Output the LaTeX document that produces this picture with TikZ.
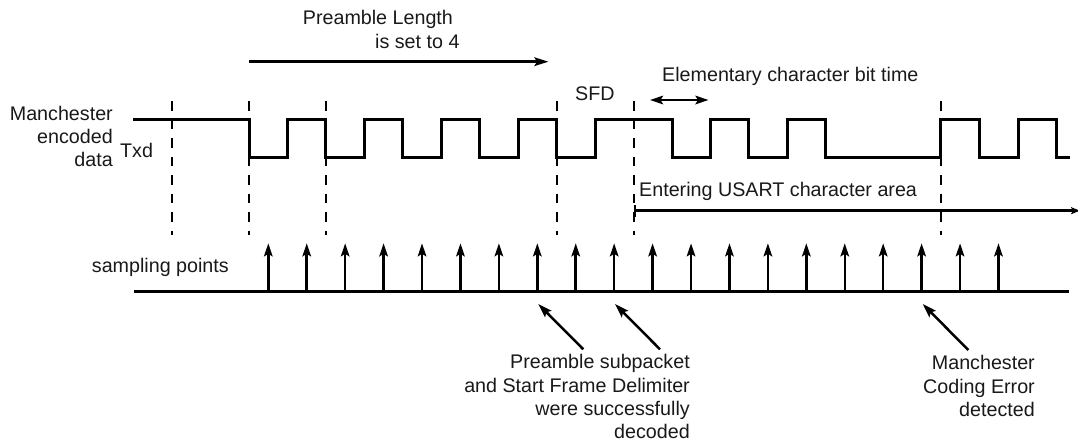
\documentclass[tikz,border=0pt]{standalone}
\usepackage{fontspec}
\setmainfont{Liberation Sans}
\usetikzlibrary{arrows.meta}
\tikzset{
  lbl/.style={font=\fontsize{19.7}{23.3}\selectfont, inner sep=0pt, text=black!90},
  wave/.style={line width=3pt, line join=miter, line cap=butt},
  guide/.style={line width=2pt, dash pattern=on 9.5pt off 9pt},
  samp/.style={line width=2.5pt, -{Stealth[length=13pt,width=8.5pt,inset=2.5pt]}},
  pointer/.style={line width=2.5pt, -{Stealth[length=14pt,width=9pt,inset=2.5pt]}},
  span/.style={line width=2.5pt},
}
\begin{document}
\begin{tikzpicture}[x=1pt,y=-1pt]
\useasboundingbox (0,0) rectangle (1078,442);

% labels
\node[lbl, anchor=north east, align=right] (mlabel) at (113,105.7) {Manchester\\encoded\\data};
\node[lbl, anchor=base west] (txd) at (120,157) {Txd};
\node[lbl, anchor=north west, align=left] (pre) at (302.7,10.4) {Preamble Length\\\hspace*{72.3pt}is set to 4};
\node[lbl, anchor=base west] (sfd) at (575,100) {SFD};
\node[lbl, anchor=base west] (elem) at (662,81) {Elementary character bit time};
\node[lbl, anchor=base west] (enter) at (639,196) {Entering USART character area};
\node[lbl, anchor=base west] (samp) at (91.7,272.7) {sampling points};
\node[lbl, anchor=north east, align=right] (ok) at (690,354.3) {Preamble subpacket\\and Start Frame Delimiter\\were successfully\\decoded};
\node[lbl, anchor=north east, align=right] (err) at (1035,355.5) {Manchester\\Coding Error\\detected};

% dashed guides
\foreach \x in {172,249,326,556.6,633.5,940.5}
  \draw[guide] (\x,101) -- (\x,235);

% waveform
\def\H{119.3}\def\L{157.3}
\draw[wave] (133,\H) -- (249,\H) -- (249,\L) -- (287.5,\L) -- (287.5,\H) -- (325.9,\H) -- (325.9,\L)
 -- (364.4,\L) -- (364.4,\H) -- (402.8,\H) -- (402.8,\L) -- (441.3,\L) -- (441.3,\H) -- (479.7,\H)
 -- (479.7,\L) -- (518.2,\L) -- (518.2,\H) -- (556.6,\H) -- (556.6,\L) -- (595.1,\L) -- (595.1,\H)
 -- (672,\H) -- (672,\L) -- (710.4,\L) -- (710.4,\H) -- (748.9,\H) -- (748.9,\L) -- (787.3,\L)
 -- (787.3,\H) -- (825.8,\H) -- (825.8,\L) -- (940.5,\L) -- (940.5,\H) -- (979.6,\H) -- (979.6,\L)
 -- (1018,\L) -- (1018,\H) -- (1056.5,\H) -- (1056.5,\L) -- (1070,\L);

% preamble length arrow
\coordinate (preA) at (249,61.7);
\coordinate (preB) at (548.5,61.7);
\draw[span, -{Stealth[length=14pt,width=8.5pt,inset=2.5pt]}] (preA) -- (preB);

% elementary bit time
\coordinate (elA) at (650,100);
\coordinate (elB) at (708.5,100);
\draw[span, {Stealth[length=13pt,width=8.5pt,inset=2.5pt]}-{Stealth[length=13pt,width=8.5pt,inset=2.5pt]}] (elA) -- (elB);

% USART character area
\coordinate (usA) at (633.5,210.7);
\coordinate (usB) at (1080,210.7);
\draw[span, {Bar[width=12pt]}-{Stealth[length=9pt,width=7pt,inset=2pt]}] (usA) -- (usB);

% sampling baseline and arrows
\coordinate (bl0) at (134,291.7);
\coordinate (bl1) at (1069,291.7);
\draw[line width=3pt] (bl0) -- (bl1);
\foreach \k in {0,...,19}{
  \pgfmathsetmacro{\sx}{268.3+38.43*\k}
  \coordinate (s\k) at (\sx,291.7);
  \coordinate (t\k) at (\sx,243.3);
  \draw[samp] (s\k) -- (t\k);
}

% pointers
\coordinate (p1) at (583.3,349.3);
\coordinate (q1) at (538.3,304);
\coordinate (p2) at (660,349.3);
\coordinate (q2) at (615,304);
\coordinate (p3) at (968.3,350);
\coordinate (q3) at (922.7,304);
\draw[pointer] (p1) -- (q1);
\draw[pointer] (p2) -- (q2);
\draw[pointer] (p3) -- (q3);
\end{tikzpicture}
\end{document}
